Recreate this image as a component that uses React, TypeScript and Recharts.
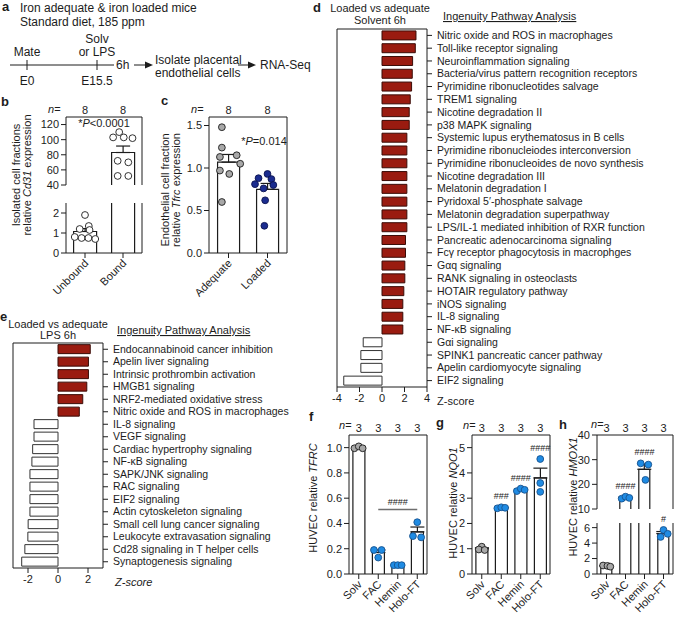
import React from "react";
import {
  BarChart,
  ComposedChart,
  Bar,
  Scatter,
  XAxis,
  YAxis,
  ErrorBar,
  Cell,
  ReferenceDot,
  ReferenceLine,
} from "recharts";

const FONT = "'Liberation Sans', Arial, Helvetica, sans-serif";
const INK = "#1c1c1c";
const RED = "#9a1b10";
const RED_EDGE = "#3a0c07";
const GREY = "#a8a8a8";
const BLUE = "#1f8be3";
const NAVY = "#1b2c8f";
const WHITE = "#ffffff";

// ---- b: Cd31 expression, unbound vs bound fraction
const B_GROUPS = ["Unbound", "Bound"];
const B_N = [8, 8];
const B_UNBOUND = [1.9, 1.35, 1.2, 1.15, 0.8, 0.75, 0.75, 0.7];
const B_BOUND = [110, 103, 103, 102, 72, 70, 52, 52];
const B_TICKS_HI = [40, 60, 80, 100, 120];
const B_TICKS_LO = [0, 1, 2];

// ---- c: Tfrc expression
const C_GROUPS = ["Adequate", "Loaded"];
const C_N = [8, 8];
const C_ADEQUATE = [1.48, 1.24, 1.13, 1.15, 1.05, 0.97, 0.93, 0.6];
const C_LOADED = [0.93, 0.88, 0.87, 0.81, 0.8, 0.76, 0.62, 0.32];
const C_TICKS = [0, 0.5, 1, 1.5];

// ---- d: IPA, solvent 6h
const D_PATHWAYS = [
  "Nitric oxide and ROS in macrophages",
  "Toll-like receptor signaling",
  "Neuroinflammation signaling",
  "Bacteria/virus pattern recognition receptors",
  "Pyrimidine ribonucleotides salvage",
  "TREM1 signaling",
  "Nicotine degradation II",
  "p38 MAPK signaling",
  "Systemic lupus erythematosus in B cells",
  "Pyrimidine ribonucleiodes interconversion",
  "Pyrimidine ribonucleoides de novo synthesis",
  "Nicotine degradation III",
  "Melatonin degradation I",
  "Pyridoxal 5\u2032-phosphate salvage",
  "Melatonin degradation superpathway",
  "LPS/IL-1 mediated inhibition of RXR function",
  "Pancreatic adenocarcinoma signaling",
  "Fc\u03b3 receptor phagocytosis in macrophges",
  "G\u03b1q signaling",
  "RANK signaling in osteoclasts",
  "HOTAIR regulatory pathway",
  "iNOS signaling",
  "IL-8 signaling",
  "NF-\u03baB signaling",
  "G\u03b1i signaling",
  "SPINK1 pancreatic cancer pathway",
  "Apelin cardiomyocyte signaling",
  "EIF2 signaling",
];
const D_Z = [
  3.02, 2.96, 2.72, 2.69, 2.63, 2.51, 2.42, 2.42, 2.21, 2.21, 2.21, 2.21, 2.21, 2.21,
  2.21, 2.21, 2.09, 2.09, 2.03, 2.03, 1.94, 1.85, 1.85, 1.85, -1.67, -1.88, -1.88, -3.4,
];
const D_TICKS = [-4, -2, 0, 2, 4];

// ---- e: IPA, LPS 6h
const E_PATHWAYS = [
  "Endocannabinoid cancer inhibition",
  "Apelin liver signaling",
  "Intrinsic prothrombin activation",
  "HMGB1 signaling",
  "NRF2-mediated oxidative stress",
  "Nitric oxide and ROS in macrophages",
  "IL-8 signaling",
  "VEGF signaling",
  "Cardiac hypertrophy signaling",
  "NF-\u03baB signaling",
  "SAPK/JNK signaling",
  "RAC signaling",
  "EIF2 signaling",
  "Actin cytoskeleton signaling",
  "Small cell lung cancer signaling",
  "Leukocyte extravasation signaling",
  "Cd28 signaling in T helper cells",
  "Synaptogenesis signaling",
];
const E_Z = [
  2.15, 2.03, 2.03, 1.92, 1.65, 1.42, -1.6, -1.6, -1.69, -1.74, -1.87, -1.87, -1.87,
  -1.87, -1.99, -2.01, -2.21, -2.42,
];
const E_TICKS = [-2, 0, 2];

// ---- f, g, h: HUVEC treatments
const HUVEC_GROUPS = ["Solv", "FAC", "Hemin", "Holo-FT"];
const HUVEC_N = [3, 3, 3, 3];

const F_SOLV = [0.995, 1.01, 0.995];
const F_FAC = [0.19, 0.19, 0.13];
const F_HEMIN = [0.07, 0.07, 0.07];
const F_HOLO = [0.41, 0.3, 0.29];
const F_TICKS = [0, 0.2, 0.4, 0.6, 0.8, 1.0];
const F_SIG = "####";
const F_SIG_LEVEL = 0.51;

const G_SOLV = [1.08, 0.97, 0.95];
const G_FAC = [2.6, 2.64, 2.62];
const G_HEMIN = [3.28, 3.38, 3.33];
const G_HOLO = [4.55, 3.6, 3.25];
const G_TICKS = [0, 1, 2, 3, 4, 5];
const G_SIG = ["", "###", "####", "####"];

const H_SOLV = [1.1, 1.05, 0.95];
const H_FAC = [14.2, 15.0, 14.5];
const H_HEMIN = [28.5, 28.0, 21.8];
const H_HOLO = [5.7, 5.2, 4.8];
const H_TICKS_HI = [10, 20, 30, 40];
const H_TICKS_LO = [0, 2, 4, 6];
const H_SIG = ["", "####", "####", "#"];

// horizontal spread of the dots inside each bar (fraction of the band)
const JIT_B = [
  [0, 0.1, -0.14, 0.12, -0.27, -0.09, 0.09, 0.27],
  [-0.1, -0.26, 0.02, 0.25, -0.14, 0.14, -0.14, 0.14],
];
const JIT_C = [
  [-0.17, -0.17, -0.22, 0.21, 0.3, -0.22, 0.02, -0.17],
  [0, -0.23, 0.1, -0.32, 0.15, -0.1, -0.06, -0.08],
];
const JIT_F = [
  [-0.22, 0, 0.2],
  [-0.22, 0.17, 0],
  [-0.2, 0, 0.2],
  [0, -0.22, 0.2],
];
const JIT_G = [
  [0, -0.15, 0.15],
  [-0.2, 0, 0.2],
  [-0.2, 0, 0.2],
  [0, 0, 0],
];
const JIT_H = [
  [-0.18, 0.05, 0.2],
  [-0.2, 0, 0.2],
  [-0.2, 0.2, 0.05],
  [0, 0.22, -0.15],
];

type Box = { x0: number; y0: number; x1: number; y1: number };

function stats(v: number[]) {
  const mean = v.reduce((a, b) => a + b, 0) / v.length;
  const sd = Math.sqrt(v.reduce((a, b) => a + (b - mean) ** 2, 0) / (v.length - 1));
  return { mean, sem: sd / Math.sqrt(v.length) };
}

function topOf(v: number[]) {
  const s = stats(v);
  return Math.max(Math.max(...v), s.mean + s.sem);
}

const fmt1 = (v: number) => v.toFixed(1);

const RotTick = (props: any) => {
  const { x, y, payload } = props;
  const tx = x + 4;
  const ty = y + 4;
  return (
    <text x={tx} y={ty} transform={`rotate(-45 ${tx} ${ty})`} textAnchor="end" fontSize={11} fill={INK}>
      {payload.value}
    </text>
  );
};

// pathway names: one line, no wrapping
const PathTick = (props: any) => (
  <text x={props.x} y={props.y} dy="0.35em" textAnchor="start" fontSize={10.5} fill={INK}>
    {props.payload.value}
  </text>
);

const Dot = (props: any) => {
  const fill = props.payload?.fill ?? WHITE;
  const edge = fill === BLUE ? "#17528e" : fill === NAVY ? "#0c1450" : INK;
  return <circle cx={props.cx} cy={props.cy} r={3.4} fill={fill} stroke={edge} strokeWidth={0.9} />;
};

// bar outline without a bottom edge; no top edge when the mean is above the segment
function openBar(domain: [number, number]) {
  return (sp: any) => {
    const v = sp.payload?.mean ?? 0;
    if (v <= domain[0]) return <g />;
    const x = sp.x;
    const w = sp.width;
    const y = Math.min(sp.y, sp.y + sp.height);
    const h = Math.abs(sp.height);
    const d =
      v > domain[1]
        ? `M${x},${y + h}L${x},${y}M${x + w},${y}L${x + w},${y + h}`
        : `M${x},${y + h}L${x},${y}L${x + w},${y}L${x + w},${y + h}`;
    return (
      <g>
        <rect x={x} y={y} width={w} height={h} fill={WHITE} />
        <path d={d} fill="none" stroke={INK} strokeWidth={1.2} />
      </g>
    );
  };
}

const PAD = { l: 40, t: 16, r: 2, b: 50 };

type DotBarProps = {
  box: Box;
  names: string[];
  groups: number[][];
  jitter: number[][];
  fills: string[];
  n?: number[];
  domain: [number, number];
  ticks: number[];
  fmt?: (v: number) => string;
  gap: string;
  showTop: boolean;
  showBottom: boolean;
  sig?: string[];
  children?: React.ReactNode;
};

function DotBar(p: DotBarProps) {
  const rows = p.names.map((name, i) => {
    const s = stats(p.groups[i]);
    return { name, mean: s.mean, err: [0, s.sem] };
  });
  const nByName: Record<string, number> = {};
  p.names.forEach((name, i) => {
    nByName[name] = p.n ? p.n[i] : 0;
  });
  const pts = p.groups.flatMap((g, i) =>
    g.map((v, j) => ({ x: i + 0.5 + p.jitter[i][j], y: v, fill: p.fills[i] }))
  );
  // the upper segment of a broken axis ends just below its plot, so nothing below it leaks out
  const padB = p.showBottom ? PAD.b : 7;
  const w = PAD.l + (p.box.x1 - p.box.x0) + PAD.r;
  const h = PAD.t + (p.box.y1 - p.box.y0) + padB;
  return (
    <div style={{ position: "absolute", left: p.box.x0 - PAD.l, top: p.box.y0 - PAD.t }}>
      <ComposedChart
        width={w}
        height={h}
        data={rows}
        barCategoryGap={p.gap}
        margin={{ top: p.showTop ? 0 : PAD.t, right: 0, bottom: p.showBottom ? 0 : padB, left: 0 }}
      >
        <XAxis dataKey="name" hide={!p.showBottom} height={PAD.b} interval={0} tickSize={5} stroke={INK} tick={RotTick} />
        {p.showTop && (
          <XAxis
            xAxisId="top"
            orientation="top"
            dataKey="name"
            height={PAD.t}
            interval={0}
            tickLine={false}
            tickSize={0}
            tickMargin={3}
            stroke={INK}
            tick={{ fontSize: 11, fill: INK }}
            tickFormatter={(v: string) => String(nByName[v])}
          />
        )}
        <XAxis xAxisId="pts" type="number" dataKey="x" domain={[0, p.names.length]} allowDataOverflow hide />
        <YAxis
          width={PAD.l}
          domain={p.domain}
          ticks={p.ticks}
          allowDataOverflow
          interval={0}
          tickSize={5}
          stroke={INK}
          tick={{ fontSize: 11, fill: INK }}
          tickFormatter={p.fmt}
        />
        <YAxis yAxisId="right" orientation="right" width={PAD.r} domain={p.domain} allowDataOverflow tick={false} tickLine={false} stroke={INK} />
        <Bar dataKey="mean" fill={WHITE} isAnimationActive={false} shape={openBar(p.domain)}>
          <ErrorBar dataKey="err" width={7} stroke={INK} strokeWidth={1.2} isAnimationActive={false} />
        </Bar>
        <Scatter data={pts} xAxisId="pts" dataKey="y" isAnimationActive={false} shape={Dot} />
        {p.sig &&
          p.names.map((name, i) => {
            const t = topOf(p.groups[i]);
            if (!p.sig || !p.sig[i] || t < p.domain[0] || t > p.domain[1]) return null;
            return (
              <ReferenceDot
                key={name}
                x={name}
                y={t}
                r={0}
                ifOverflow="visible"
                label={{ value: p.sig[i], position: "top", offset: 8, fontSize: 9, fill: INK }}
              />
            );
          })}
        {p.children}
      </ComposedChart>
    </div>
  );
}

type ZProps = {
  box: Box;
  names: string[];
  z: number[];
  domain: [number, number];
  ticks: number[];
  gap: string;
  labelW: number;
};

function ZChart(p: ZProps) {
  const rows = p.names.map((name, i) => ({ name, z: p.z[i] }));
  const padL = 12;
  const padT = 2;
  const padB = 24;
  const w = padL + (p.box.x1 - p.box.x0) + p.labelW;
  const h = padT + (p.box.y1 - p.box.y0) + padB;
  return (
    <div style={{ position: "absolute", left: p.box.x0 - padL, top: p.box.y0 - padT }}>
      <BarChart
        layout="vertical"
        width={w}
        height={h}
        data={rows}
        barCategoryGap={p.gap}
        margin={{ top: 0, right: 0, bottom: 0, left: 0 }}
      >
        <XAxis type="number" domain={p.domain} ticks={p.ticks} allowDataOverflow height={padB} tickSize={5} stroke={INK} tick={{ fontSize: 11, fill: INK }} interval={0} />
        <XAxis xAxisId="top" orientation="top" type="number" domain={p.domain} allowDataOverflow height={padT} tick={false} tickLine={false} stroke={INK} />
        <YAxis type="category" dataKey="name" orientation="right" width={p.labelW} interval={0} tickSize={5} tickMargin={5} stroke={INK} tick={PathTick} />
        <YAxis yAxisId="left" type="category" dataKey="name" orientation="left" width={padL} tick={false} tickLine={false} stroke={INK} />
        <Bar dataKey="z" isAnimationActive={false} strokeWidth={1}>
          {rows.map((r) => (
            <Cell key={r.name} fill={r.z > 0 ? RED : WHITE} stroke={r.z > 0 ? RED_EDGE : "#333"} />
          ))}
        </Bar>
      </BarChart>
    </div>
  );
}

function Overlay() {
  return (
    <svg
      width={676}
      height={618}
      style={{ position: "absolute", left: 0, top: 0, pointerEvents: "none" }}
      fontFamily={FONT}
      fill={INK}
      fontSize={11}
    >
      <g fontSize={13} fontWeight="bold">
        <text x={2} y={11}>a</text>
        <text x={1} y={106}>b</text>
        <text x={161} y={105}>c</text>
        <text x={313} y={12}>d</text>
        <text x={0} y={321}>e</text>
        <text x={309} y={421}>f</text>
        <text x={436} y={427}>g</text>
        <text x={559} y={429}>h</text>
      </g>

      {/* a: study design */}
      <g fontSize={12}>
        <text x={20} y={12}>Iron adequate &amp; iron loaded mice</text>
        <text x={20} y={26}>Standard diet, 185 ppm</text>
        <text x={27} y={56} textAnchor="middle">Mate</text>
        <text x={97} y={43} textAnchor="middle">Solv</text>
        <text x={97} y={56} textAnchor="middle">or LPS</text>
        <text x={27} y={85} textAnchor="middle">E0</text>
        <text x={97} y={85} textAnchor="middle">E15.5</text>
        <text x={116} y={69}>6h</text>
        <text x={155} y={64}>Isolate placental</text>
        <text x={155} y={77}>endothelial cells</text>
        <text x={260} y={69}>RNA-Seq</text>
      </g>
      <g stroke={INK} strokeWidth={1}>
        <line x1={10} y1={65} x2={114} y2={65} />
        <line x1={27} y1={60} x2={27} y2={70} />
        <line x1={97} y1={60} x2={97} y2={70} />
        <line x1={134} y1={65} x2={146} y2={65} />
        <line x1={238} y1={65} x2={249} y2={65} />
      </g>
      <polygon points="145,61.5 153,65 145,68.5" />
      <polygon points="248,61.5 256,65 248,68.5" />

      {/* b */}
      <text x={48} y={113}>
        <tspan fontStyle="italic">n</tspan>=
      </text>
      <text x={104} y={127} textAnchor="middle">
        *<tspan fontStyle="italic">P</tspan>&lt;0.0001
      </text>
      <text transform="translate(20,175) rotate(-90)" textAnchor="middle">Isolated cell fractions</text>
      <text transform="translate(31,175) rotate(-90)" textAnchor="middle">
        relative <tspan fontStyle="italic">Cd31</tspan> expression
      </text>

      {/* c */}
      <text x={191} y={113}>
        <tspan fontStyle="italic">n</tspan>=
      </text>
      <text x={264} y={145} textAnchor="middle">
        *<tspan fontStyle="italic">P</tspan>=0.014
      </text>
      <text transform="translate(169,190) rotate(-90)" textAnchor="middle">Endothelial cell fraction</text>
      <text transform="translate(180,190) rotate(-90)" textAnchor="middle">
        relative <tspan fontStyle="italic">Tfrc</tspan> expression
      </text>

      {/* d */}
      <text x={380} y={12} textAnchor="middle">Loaded vs adequate</text>
      <text x={380} y={24} textAnchor="middle">Solvent 6h</text>
      <text x={443} y={20} textDecoration="underline">Ingenuity Pathway Analysis</text>
      <text x={437} y={405}>Z-score</text>

      {/* e */}
      <text x={58} y={328} textAnchor="middle">Loaded vs adequate</text>
      <text x={58} y={339} textAnchor="middle">LPS 6h</text>
      <text x={117} y={334} textDecoration="underline">Ingenuity Pathway Analysis</text>
      <text x={115} y={586} fontStyle="italic">Z-score</text>

      {/* f, g, h */}
      <text x={339} y={429}>
        <tspan fontStyle="italic">n</tspan>=
      </text>
      <text x={463} y={429}>
        <tspan fontStyle="italic">n</tspan>=
      </text>
      <text x={591} y={428}>
        <tspan fontStyle="italic">n</tspan>=
      </text>
      <text transform="translate(317,498) rotate(-90)" textAnchor="middle">
        HUVEC relative <tspan fontStyle="italic">TFRC</tspan>
      </text>
      <text transform="translate(457,503) rotate(-90)" textAnchor="middle">
        HUVEC relative <tspan fontStyle="italic">NQO1</tspan>
      </text>
      <text transform="translate(577,497) rotate(-90)" textAnchor="middle">
        HUVEC relative <tspan fontStyle="italic">HMOX1</tspan>
      </text>
    </svg>
  );
}

export default function App() {
  const hFills = [GREY, BLUE, BLUE, BLUE];
  const fGroups = [F_SOLV, F_FAC, F_HEMIN, F_HOLO];
  const gGroups = [G_SOLV, G_FAC, G_HEMIN, G_HOLO];
  const hGroups = [H_SOLV, H_FAC, H_HEMIN, H_HOLO];
  return (
    <div
      style={{
        position: "absolute",
        left: 0,
        top: 0,
        width: 676,
        height: 618,
        overflow: "hidden",
        background: "#fff",
        fontFamily: FONT,
        color: INK,
      }}
    >
      <ZChart box={{ x0: 337, y0: 29, x1: 427, y1: 387 }} names={D_PATHWAYS} z={D_Z} domain={[-4, 4]} ticks={D_TICKS} gap="15%" labelW={249} />
      <ZChart box={{ x0: 13, y0: 343, x1: 103, y1: 568 }} names={E_PATHWAYS} z={E_Z} domain={[-3, 3]} ticks={E_TICKS} gap="13%" labelW={200} />

      {/* b: broken axis, upper and lower segments */}
      <DotBar
        box={{ x0: 66, y0: 117, x1: 142, y1: 185 }}
        names={B_GROUPS}
        n={B_N}
        groups={[B_UNBOUND, B_BOUND]}
        jitter={JIT_B}
        fills={[WHITE, WHITE]}
        domain={[40, 130]}
        ticks={B_TICKS_HI}
        gap="20%"
        showTop
        showBottom={false}
      />
      <DotBar
        box={{ x0: 66, y0: 203, x1: 142, y1: 253 }}
        names={B_GROUPS}
        groups={[B_UNBOUND, B_BOUND]}
        jitter={JIT_B}
        fills={[WHITE, WHITE]}
        domain={[0, 2.5]}
        ticks={B_TICKS_LO}
        gap="20%"
        showTop={false}
        showBottom
      />

      <DotBar
        box={{ x0: 209, y0: 117, x1: 287, y1: 253 }}
        names={C_GROUPS}
        n={C_N}
        groups={[C_ADEQUATE, C_LOADED]}
        jitter={JIT_C}
        fills={[GREY, NAVY]}
        domain={[0, 1.6]}
        ticks={C_TICKS}
        fmt={fmt1}
        gap="22%"
        showTop
        showBottom
      />

      <DotBar
        box={{ x0: 349, y0: 435, x1: 427, y1: 574 }}
        names={HUVEC_GROUPS}
        n={HUVEC_N}
        groups={fGroups}
        jitter={JIT_F}
        fills={hFills}
        domain={[0, 1.1]}
        ticks={F_TICKS}
        fmt={fmt1}
        gap="20%"
        showTop
        showBottom
      >
        <ReferenceLine
          segment={[
            { x: "FAC", y: F_SIG_LEVEL },
            { x: "Holo-FT", y: F_SIG_LEVEL },
          ]}
          stroke="#6e6e6e"
          strokeWidth={1.6}
        />
        <ReferenceDot
          x="Hemin"
          y={F_SIG_LEVEL}
          r={0}
          ifOverflow="visible"
          label={{ value: F_SIG, position: "top", offset: 5, fontSize: 9, fill: INK }}
        />
      </DotBar>

      <DotBar
        box={{ x0: 472, y0: 435, x1: 550, y1: 574 }}
        names={HUVEC_GROUPS}
        n={HUVEC_N}
        groups={gGroups}
        jitter={JIT_G}
        fills={hFills}
        domain={[0, 5.5]}
        ticks={G_TICKS}
        gap="20%"
        showTop
        showBottom
        sig={G_SIG}
      />

      <DotBar
        box={{ x0: 597, y0: 435, x1: 673, y1: 509 }}
        names={HUVEC_GROUPS}
        n={HUVEC_N}
        groups={hGroups}
        jitter={JIT_H}
        fills={hFills}
        domain={[10, 40]}
        ticks={H_TICKS_HI}
        gap="20%"
        showTop
        showBottom={false}
        sig={H_SIG}
      />
      <DotBar
        box={{ x0: 597, y0: 523, x1: 673, y1: 574 }}
        names={HUVEC_GROUPS}
        groups={hGroups}
        jitter={JIT_H}
        fills={hFills}
        domain={[0, 6.6]}
        ticks={H_TICKS_LO}
        gap="20%"
        showTop={false}
        showBottom
        sig={H_SIG}
      />

      <Overlay />
    </div>
  );
}
